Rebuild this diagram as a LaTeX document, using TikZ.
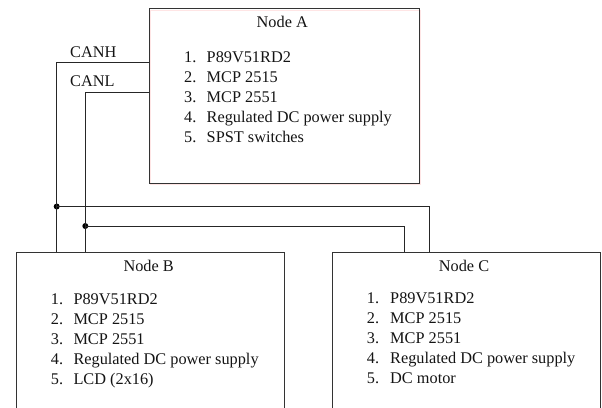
\documentclass[tikz,border=0pt]{standalone}
\usepackage{fontspec}
\setmainfont{Liberation Serif}
\begin{document}
\begin{tikzpicture}[x=1pt,y=-1pt,
  box/.style={draw=black!80, line width=0.9pt, rectangle, inner sep=0pt, anchor=north west},
  wire/.style={draw=black!85, line width=0.8pt},
  lbl/.style={font=\fontsize{16.3}{19}\selectfont, text=black!92, inner sep=0pt, anchor=base west},
  ttl/.style={font=\fontsize{16.3}{19}\selectfont, text=black!92, inner sep=0pt, anchor=base},
  jdot/.style={circle, fill=black, inner sep=0pt, minimum size=6pt}]
\useasboundingbox (0,0) rectangle (602,407);
\clip (0,0) rectangle (602,407);
% boxes
\draw[red!10, line width=0.8pt] (150.5,10) rectangle (420.5,184.5);
\node[box, minimum width=270pt, minimum height=174.5pt] (A) at (148.5,8) {};
\node[box, minimum width=268.5pt, minimum height=180pt] (B) at (15.5,252) {};
\node[box, minimum width=268pt, minimum height=180pt] (C) at (332,252) {};
% titles
\node[ttl] (At) at (282.3,27.3) {Node A};
\node[ttl] (Bt) at (148.7,271.7) {Node B};
\node[ttl] (Ct) at (464,271) {Node C};
% lists
\foreach \t [count=\i] in {P89V51RD2, MCP 2515, MCP 2551, Regulated DC power supply, SPST switches} {
  \node[lbl] (A-n\i) at (184, 62.7+20*\i-20) {\i.};
  \node[lbl] (A-t\i) at (206.5, 62.7+20*\i-20) {\t};
}
\foreach \t [count=\i] in {P89V51RD2, MCP 2515, MCP 2551, Regulated DC power supply, LCD (2x16)} {
  \node[lbl] (B-n\i) at (50.7, 304.3+20*\i-20) {\i.};
  \node[lbl] (B-t\i) at (73.3, 304.3+20*\i-20) {\t};
}
\foreach \t [count=\i] in {P89V51RD2, MCP 2515, MCP 2551, Regulated DC power supply, DC motor} {
  \node[lbl] (C-n\i) at (366.7, 303.3+20*\i-20) {\i.};
  \node[lbl] (C-t\i) at (390, 303.3+20*\i-20) {\t};
}
% labels
\node[lbl] (canh) at (70,57.3) {CANH};
\node[lbl] (canl) at (70,86.7) {CANL};
% wire coordinates
\coordinate (hA) at (A.north west |- 0,62.5);
\coordinate (lA) at (A.north west |- 0,92.3);
\coordinate (hB) at (56.7,0 |- B.north);
\coordinate (lB) at (85.3,0 |- B.north);
\coordinate (hC) at (429.3,0 |- C.north);
\coordinate (lC) at (404,0 |- C.north);
\node[jdot] (jh) at (56.7,206.5) {};
\node[jdot] (jl) at (85.3,226) {};
% wires
\draw[wire] (hA) -| (hB);
\draw[wire] (lA) -| (lB);
\draw[wire] (jh.center) -| (hC);
\draw[wire] (jl.center) -| (lC);
\end{tikzpicture}
\end{document}
